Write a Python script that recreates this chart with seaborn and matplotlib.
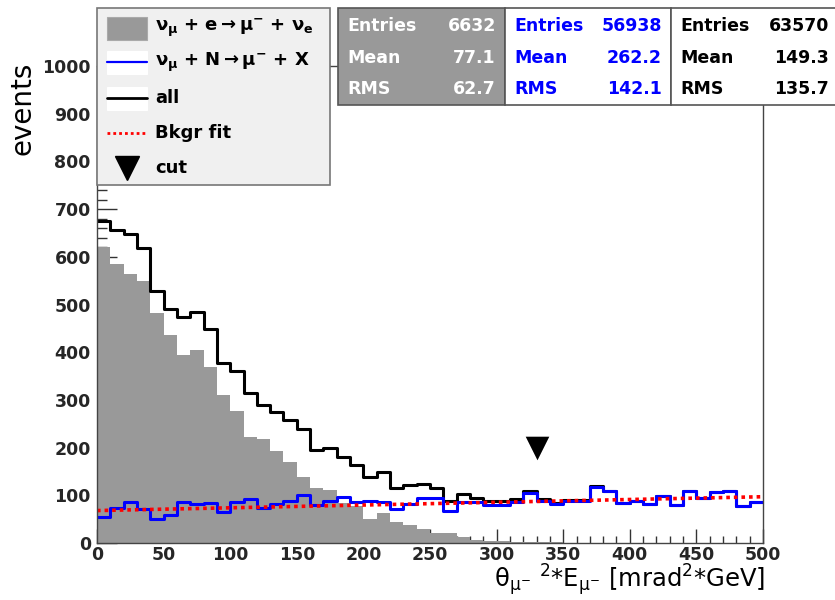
import numpy as np
import pandas as pd
import matplotlib
matplotlib.use('Agg')
import matplotlib.pyplot as plt
from matplotlib.patches import Rectangle
from matplotlib.lines import Line2D
from matplotlib.ticker import MultipleLocator
import seaborn as sns

# ---------------- data ----------------
bin_edges = list(range(0, 510, 10))
nue_e = [620, 584, 564, 550, 483, 437, 394, 405, 368, 311,
         277, 223, 218, 193, 170, 138, 116, 112, 84, 77,
         51, 63, 44, 38, 30, 22, 20, 13, 7, 5,
         4, 3, 3, 2, 2, 1, 1, 1, 1, 1,
         1, 1, 1, 1, 1, 1, 1, 1, 1, 1]
numu_n = [55, 73, 85, 71, 50, 59, 85, 81, 83, 66,
          85, 92, 73, 82, 89, 101, 80, 88, 96, 87,
          88, 85, 71, 82, 94, 94, 68, 85, 85, 80,
          80, 87, 104, 89, 82, 89, 89, 118, 110, 83,
          88, 81, 99, 80, 108, 94, 106, 108, 78, 87]
all_ev = [675, 657, 647, 619, 529, 491, 474, 484, 449, 378,
          360, 314, 289, 275, 258, 239, 195, 200, 180, 164,
          139, 148, 115, 121, 123, 115, 88, 102, 95, 89,
          89, 92, 110, 93, 83, 90, 90, 119, 110, 83,
          88, 81, 99, 80, 108, 94, 106, 108, 78, 87]
fit_x = [0, 500]
fit_y = [68, 97]
cut_x = [330]
cut_y = [200]

legend_labels = [r'$\nu_{\mu}$ + e$\rightarrow$$\mu^{-}$ + $\nu_{e}$',
                 r'$\nu_{\mu}$ + N$\rightarrow$$\mu^{-}$ + X',
                 'all', 'Bkgr fit', 'cut']
stat_names = ['Entries', 'Mean', 'RMS']
stats_nue = ['6632', '77.1', '62.7']
stats_numu = ['56938', '262.2', '142.1']
stats_all = ['63570', '149.3', '135.7']

GRAY = '#999999'
BLUE = '#0000ff'
RED = '#ff0000'

sns.set_theme(style='white')
plt.rcParams['font.family'] = ['DejaVu Sans']
plt.rcParams['mathtext.fontset'] = 'dejavusans'
plt.rcParams['mathtext.default'] = 'regular'

centers = [(a + b) / 2 for a, b in zip(bin_edges[:-1], bin_edges[1:])]
df = pd.DataFrame({'x': centers, 'nue': nue_e, 'numu': numu_n, 'all': all_ev})

W, H = 835, 600
fig = plt.figure(figsize=(W / 100, H / 100), dpi=100)
fig.patch.set_facecolor('white')
ax = fig.add_axes([97 / W, (H - 543) / H, 666 / W, 477 / H])
ax.set_facecolor('white')

sns.histplot(data=df, x='x', weights='nue', bins=bin_edges, element='step',
             fill=True, color=GRAY, alpha=1, ax=ax, zorder=3)
for coll in ax.collections:
    coll.set_facecolor(GRAY)
    coll.set_edgecolor('none')
    coll.set_linewidth(0)
for ln in list(ax.lines):
    ln.remove()
sns.histplot(data=df, x='x', weights='all', bins=bin_edges, element='step',
             fill=False, color='black', linewidth=2.2, ax=ax, zorder=4)
sns.histplot(data=df, x='x', weights='numu', bins=bin_edges, element='step',
             fill=False, color=BLUE, linewidth=2.2, ax=ax, zorder=5)
sns.lineplot(x=fit_x, y=fit_y, ax=ax, color=RED, linewidth=2.6,
             linestyle=(0, (1.0, 1.1)), zorder=6)
sns.scatterplot(x=cut_x, y=cut_y, ax=ax, marker='v', s=17 ** 2,
                color='black', linewidth=0, zorder=6)

ax.set_xlim(0, 500)
ax.set_ylim(0, 1000)
ax.set_xlabel('')
ax.set_ylabel('')
ax.xaxis.set_major_locator(MultipleLocator(50))
ax.xaxis.set_minor_locator(MultipleLocator(10))
ax.yaxis.set_major_locator(MultipleLocator(100))
ax.yaxis.set_minor_locator(MultipleLocator(20))
ax.tick_params(axis='x', which='major', direction='in', length=10, width=1,
               color='#333333', labelsize=12.5, pad=2, bottom=True, top=False)
ax.tick_params(axis='x', which='minor', direction='in', length=5, width=1,
               color='#333333', bottom=True, top=False)
ax.tick_params(axis='y', which='major', direction='in', length=14.4, width=1,
               color='#333333', labelsize=12.5, pad=4.5, left=True, right=False)
ax.tick_params(axis='y', which='minor', direction='in', length=7.2, width=1,
               color='#333333', left=True, right=False)
for lab in ax.get_xticklabels() + ax.get_yticklabels():
    lab.set_fontweight('bold')
for s in ax.spines.values():
    s.set_color('#444444')
    s.set_linewidth(1.0)
    s.set_zorder(7)
    s.set_visible(True)

# ---------------- overlay in pixel coordinates ----------------
ov = fig.add_axes([0, 0, 1, 1], zorder=10)
ov.set_xlim(0, W)
ov.set_ylim(H, 0)
ov.axis('off')

# legend box
ov.add_patch(Rectangle((97, 8), 233, 177, facecolor='#f0f0f0',
                       edgecolor='#777777', linewidth=1.2))
ys = [28, 62, 98, 133, 168]
ov.add_patch(Rectangle((107, ys[0] - 11.5), 40, 23, facecolor=GRAY, edgecolor='#aaaaaa', linewidth=0.8))
ov.add_patch(Rectangle((107, ys[1] - 11.5), 40, 23, facecolor='white', edgecolor='white', linewidth=0.8))
ov.add_line(Line2D([107, 147], [ys[1], ys[1]], color=BLUE, linewidth=1.6))
ov.add_patch(Rectangle((107, ys[2] - 11.5), 40, 23, facecolor='white', edgecolor='white', linewidth=0.8))
ov.add_line(Line2D([107, 147], [ys[2], ys[2]], color='black', linewidth=2.0))
ov.add_line(Line2D([107, 147], [ys[3], ys[3]], color=RED, linewidth=2.0,
                   linestyle=(0, (1.0, 1.1))))
ov.add_line(Line2D([127], [ys[4]], color='black', marker='v', markersize=17,
                   linestyle='none'))
for y, lab in zip(ys, legend_labels):
    ov.text(155, y, lab, fontsize=13, fontweight='bold', color='black',
            ha='left', va='center')

# stats boxes
boxes = [(338, 167, GRAY, 'white', stats_nue),
         (505, 166, 'white', BLUE, stats_numu),
         (671, 170, 'white', 'black', stats_all)]
rows = [26, 58, 89]
for x0, w, fc, tc, vals in boxes:
    ov.add_patch(Rectangle((x0, 8), w, 97, facecolor=fc, edgecolor='#555555', linewidth=1.2))
    for ry, nm, v in zip(rows, stat_names, vals):
        ov.text(x0 + 9, ry, nm, fontsize=12.5, fontweight='bold', color=tc,
                ha='left', va='center')
        ov.text(min(x0 + w - 9, 829), ry, v, fontsize=12.5, fontweight='bold', color=tc,
                ha='right', va='center')

# axis titles
ov.text(23, 108, 'events', fontsize=20, rotation=90, ha='center', va='center', color='black')
ov.text(765, 580, r'$\theta_{\mu^{-}}$ $^{2}$*E$_{\mu^{-}}$ [mrad$^{2}$*GeV]',
        fontsize=17.5, ha='right', va='center', color='black')

fig.savefig('out.png', dpi=100)
